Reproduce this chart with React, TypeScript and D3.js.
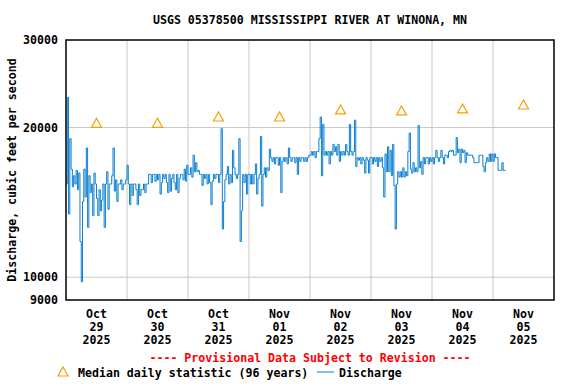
import React from "react";
import * as d3 from "d3";

const TITLE = "USGS 05378500 MISSISSIPPI RIVER AT WINONA, MN";
const Y_LABEL = "Discharge, cubic feet per second";
const Y_TICKS = [9000, 10000, 20000, 30000];
const Y_GRID = [10000, 20000];
const DAY_MONTHS = ["Oct", "Oct", "Oct", "Nov", "Nov", "Nov", "Nov", "Nov"];
const DAY_NUMS = ["29", "30", "31", "01", "02", "03", "04", "05"];
const DAY_YEAR = "2025";
const MEDIANS = [20400, 20400, 21000, 21000, 21700, 21600, 21800, 22200];

// discharge, cfs, every 30 minutes starting Oct 29 2025 00:00
const DISCHARGE = [
  // Oct 29
  15400, 23000, 13400, 19000, 16500, 15200, 16000, 15400, 16400, 15000, 16200, 11800,
  9800, 14200, 16500, 14500, 18200, 12600, 16000, 14800, 15400, 13300, 16200, 15400,
  14400, 13300, 15000, 13600, 14300, 15400, 12600, 15400, 16300, 13700, 15400, 15400,
  16000, 18200, 14900, 15700, 14200, 15400, 15400, 15700, 15000, 15400, 15400, 15700,
  // Oct 30
  16800, 15400, 14000, 15400, 14600, 15400, 15400, 15000, 14000, 15400, 14600, 15000,
  15000, 15400, 14800, 15400, 15400, 16100, 16100, 15500, 16100, 16100, 15600, 16100,
  15700, 16100, 14700, 15500, 16100, 15800, 16100, 15500, 14800, 16100, 14900, 15800,
  16100, 15500, 15000, 16100, 14800, 15800, 16100, 16100, 15700, 16500, 15600, 16800,
  // Oct 31
  16100, 16100, 16600, 15900, 17600, 16300, 17000, 16300, 16400, 16100, 16100, 15300,
  16100, 15800, 16100, 15400, 16100, 15500, 14000, 15600, 16100, 15800, 16100, 16100,
  15500, 16100, 19900, 12500, 14200, 15700, 16100, 16700, 15400, 16100, 15500, 18000,
  16600, 16100, 15800, 16100, 19000, 11800, 13600, 16100, 15500, 16100, 14700, 16100,
  // Nov 01
  16100, 15400, 16100, 15400, 16100, 16900, 14700, 15800, 16100, 19200, 13900, 16100,
  16600, 15900, 16600, 16400, 18100, 17400, 17100, 17400, 16900, 17400, 17400, 16800,
  17400, 14800, 17100, 17400, 17100, 17400, 16900, 18200, 17400, 17100, 17400, 17400,
  17000, 17400, 16100, 17400, 17100, 17400, 17400, 17100, 17400, 17100, 17400, 17600,
  // Nov 02
  17600, 17900, 17600, 17900, 17400, 17900, 17900, 19000, 21000, 16000, 20300, 17600,
  17900, 17600, 17900, 16900, 17900, 17600, 18500, 17900, 18300, 17600, 18500, 17100,
  17900, 17600, 17900, 17600, 18500, 17900, 17600, 20300, 17900, 17600, 17900, 20700,
  16700, 17400, 17200, 17400, 16900, 17400, 17200, 16200, 17400, 17200, 16200, 17400,
  // Nov 03
  17400, 16900, 17400, 17100, 17400, 16700, 17400, 17100, 17400, 16600, 14500, 17700,
  16300, 18300, 16300, 18000, 16000, 18500, 15300, 12500, 15400, 16300, 15900, 16300,
  15900, 16600, 15900, 16300, 16000, 17900, 19500, 16500, 16200, 17000, 16300, 16600,
  16300, 20200, 16600, 17100, 16100, 17400, 16900, 17400, 17400, 16900, 17400, 17100,
  // Nov 04
  17400, 16900, 17400, 18000, 17400, 17100, 17400, 18000, 17400, 16900, 17600, 17600,
  17400, 17900, 18000, 17900, 18000, 17600, 17600, 19100, 17800, 18100, 17000, 18100,
  17800, 18000, 17000, 17800, 17600, 17600, 17600, 17600, 17400, 17000, 17000, 17000,
  17000, 17600, 17600, 17600, 16700, 16300, 17000, 17400, 17100, 17700, 17100, 17700,
  // Nov 05
  17100, 17700, 17400, 17400, 16400, 16400, 16400, 17000, 16400, 16400, 16400,
];

const W = 576;
const H = 384;
const M = { left: 66, right: 554, top: 40, bottom: 300 };
const FONT = "'DejaVu Sans Mono', 'Liberation Mono', monospace";
const START = new Date(2025, 9, 29, 0, 0);
const END = new Date(2025, 10, 6, 0, 0);
const STEP_MS = 30 * 60 * 1000;

export default function App() {
  const x = d3.scaleTime().domain([START, END]).range([M.left, M.right]);
  const y = d3.scaleLog().domain([9000, 30000]).range([M.bottom, M.top]);
  const days = d3.timeDay.range(START, END);
  const gridDays = days.slice(1);

  const pts = DISCHARGE.map((v, i) => ({ t: new Date(START.getTime() + i * STEP_MS), v }));
  const line = d3
    .line<{ t: Date; v: number }>()
    .x((d) => x(d.t))
    .y((d) => y(d.v))
    .curve(d3.curveStepAfter);

  const tri = (cx: number, cy: number) =>
    `M${cx - 5},${cy + 4} L${cx},${cy - 5} L${cx + 5},${cy + 4} Z`;

  const fs = 11.6;

  return (
    <svg
      width={W}
      height={H}
      style={{ position: "absolute", left: 0, top: 0, background: "#fff" }}
      fontFamily={FONT}
      fontWeight="bold"
      fontSize={fs}
    >
      <rect x={0} y={0} width={W} height={H} fill="#fff" />
      <text x={(M.left + M.right) / 2} y={24} textAnchor="middle" fill="#000">
        {TITLE}
      </text>

      {/* grid */}
      {gridDays.map((d, i) => (
        <line key={"gx" + i} x1={x(d)} x2={x(d)} y1={M.top} y2={M.bottom} stroke="#c8c8c8" strokeWidth={1} />
      ))}
      {Y_GRID.map((v) => (
        <line key={"gy" + v} x1={M.left} x2={M.right} y1={y(v)} y2={y(v)} stroke="#c8c8c8" strokeWidth={1} />
      ))}

      {/* discharge */}
      <path d={line(pts) || ""} fill="none" stroke="#0a7fd0" strokeWidth={1} />

      {/* medians */}
      {MEDIANS.map((v, i) => {
        const t = new Date(days[i].getTime() + 12 * 3600 * 1000);
        return <path key={"m" + i} d={tri(x(t), y(v))} fill="none" stroke="#f5a000" strokeWidth={1.2} />;
      })}

      <rect
        x={M.left}
        y={M.top}
        width={M.right - M.left}
        height={M.bottom - M.top}
        fill="none"
        stroke="#000"
        strokeWidth={1.5}
      />

      {/* y ticks */}
      {Y_TICKS.map((v) => (
        <text key={"yt" + v} x={M.left - 8} y={y(v)} dy="0.35em" textAnchor="end" fill="#000">
          {v}
        </text>
      ))}
      <text
        transform={`translate(16,${(M.top + M.bottom) / 2}) rotate(-90)`}
        textAnchor="middle"
        fill="#000"
      >
        {Y_LABEL}
      </text>

      {/* x ticks */}
      {days.map((d, i) => {
        const cx = x(new Date(d.getTime() + 12 * 3600 * 1000));
        return (
          <text key={"xt" + i} x={cx} textAnchor="middle" fill="#000">
            <tspan x={cx} y={318}>{DAY_MONTHS[i]}</tspan>
            <tspan x={cx} y={331}>{DAY_NUMS[i]}</tspan>
            <tspan x={cx} y={344}>{DAY_YEAR}</tspan>
          </text>
        );
      })}

      <text x={(M.left + M.right) / 2} y={362} textAnchor="middle" fill="#ff0000">
        ---- Provisional Data Subject to Revision ----
      </text>

      {/* legend */}
      <path d={tri(63, 372)} fill="none" stroke="#f5a000" strokeWidth={1.2} />
      <text x={78} y={377} fill="#000">Median daily statistic (96 years)</text>
      <line x1={317} x2={334} y1={372} y2={372} stroke="#0a7fd0" strokeWidth={1} />
      <text x={339} y={377} fill="#000">Discharge</text>
    </svg>
  );
}
